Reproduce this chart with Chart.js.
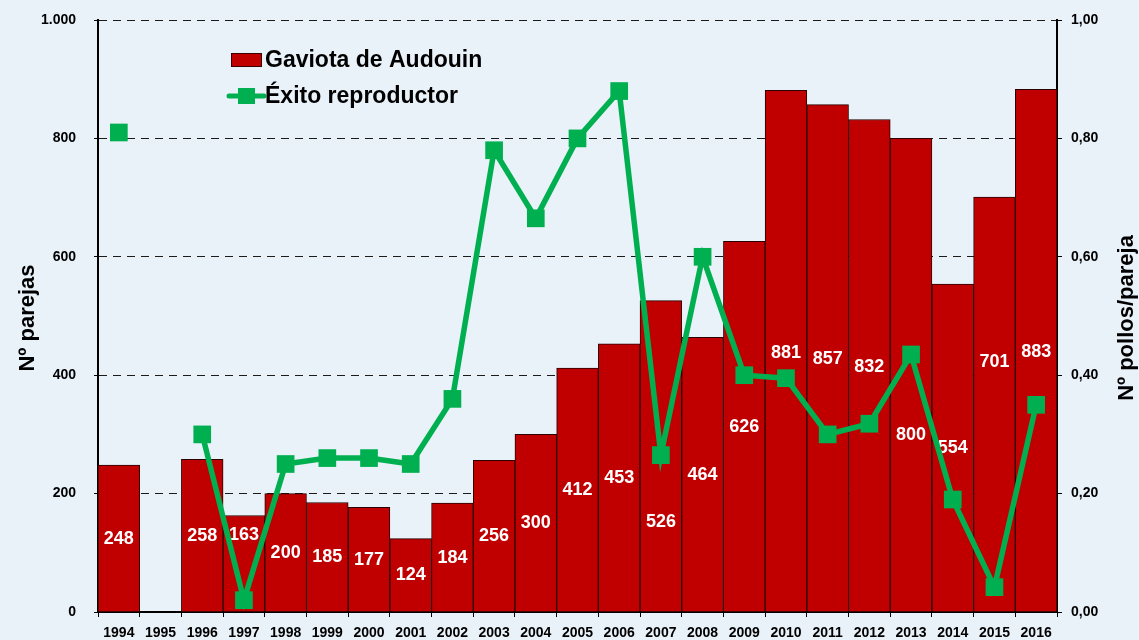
<!DOCTYPE html>
<html>
<head>
<meta charset="utf-8">
<script src="https://cdn.jsdelivr.net/npm/chart.js@4/dist/chart.umd.min.js"></script>
<style>
    html, body { margin: 0; padding: 0; background: #E9F1F9; }
    #chart { display: block; }
</style>
</head>
<body>
<canvas id="chart" width="1139" height="640"></canvas>
<script>
// Years on the x axis
const years = ['1994', '1995', '1996', '1997', '1998', '1999', '2000', '2001', '2002', '2003', '2004', '2005',
    '2006', '2007', '2008', '2009', '2010', '2011', '2012', '2013', '2014', '2015', '2016'];

// Nº parejas (bars, left axis)
const parejas = [248, null, 258, 163, 200, 185, 177, 124, 184, 256, 300, 412,
    453, 526, 464, 626, 881, 857, 832, 800, 554, 701, 883];

// Éxito reproductor, pollos/pareja (line, right axis)
const exito = [0.81, null, 0.30, 0.02, 0.25, 0.26, 0.26, 0.25, 0.36, 0.78, 0.665, 0.80,
    0.88, 0.265, 0.60, 0.40, 0.395, 0.30, 0.318, 0.435, 0.19, 0.042, 0.35];

// Where each bar's value label sits (left-axis units), null = middle of bar
const labelAt = [null, null, null, 130, null, null, null, null, null, null, null, null,
    null, 152, null, null, 437, 427, 414, 299, null, 422, 439];

const leftTicks = [0, 200, 400, 600, 800, 1000];
const rightTicks = [0, 0.2, 0.4, 0.6, 0.8, 1.0];

const FONT = "'Liberation Sans', Arial, sans-serif";
const RED = '#C00000';
const GREEN = '#00B050';

/**
 * Thousands with a dot, decimals with a comma
 */
function fmtLeft(v) {
    return String(v).replace(/\B(?=(\d{3})+(?!\d))/g, '.');
}

function fmtRight(v) {
    return v.toFixed(2).replace('.', ',');
}

/**
 * Fix a vertical axis width and drop its label overflow padding
 */
function fixWidth(w) {
    return scale => {
        scale.width = w;
        scale.paddingTop = 0;
        scale.paddingBottom = 0;
    };
}

// White labels inside the bars, drawn before the line
const barLabels = {
    id: 'barLabels',
    afterDatasetDraw(chart, args) {
        if (args.index !== 0) return;
        const ctx = chart.ctx;
        const yScale = chart.scales.y;
        const meta = chart.getDatasetMeta(0);
        ctx.save();
        ctx.fillStyle = '#ffffff';
        ctx.font = 'bold 18px ' + FONT;
        ctx.textAlign = 'center';
        ctx.textBaseline = 'middle';
        meta.data.forEach((bar, i) => {
            const v = parejas[i];
            if (v === null) return;
            const pos = labelAt[i] !== null ? labelAt[i] : v / 2;
            ctx.fillText(String(v), bar.x, yScale.getPixelForValue(pos));
        });
        ctx.restore();
    }
};

// Legend inside the plot and both axis titles
const extras = {
    id: 'extras',
    afterDraw(chart) {
        const ctx = chart.ctx;
        ctx.save();

        // Legend: bar entry
        ctx.fillStyle = RED;
        ctx.fillRect(231, 53, 31, 14);
        ctx.strokeStyle = '#3a0000';
        ctx.lineWidth = 1;
        ctx.strokeRect(231.5, 53.5, 30, 13);

        // Legend: line entry
        ctx.strokeStyle = GREEN;
        ctx.lineWidth = 5;
        ctx.lineCap = 'round';
        ctx.beginPath();
        ctx.moveTo(229, 96);
        ctx.lineTo(264, 96);
        ctx.stroke();
        ctx.fillStyle = GREEN;
        ctx.fillRect(238, 88, 17, 16);

        ctx.fillStyle = '#000000';
        ctx.font = 'bold 23px ' + FONT;
        ctx.textAlign = 'left';
        ctx.textBaseline = 'middle';
        ctx.fillText('Gaviota de Audouin', 265, 61);
        ctx.fillText('Éxito reproductor', 265, 97);

        // Axis titles, both reading bottom to top
        ctx.font = 'bold 22px ' + FONT;
        ctx.textAlign = 'center';
        ctx.translate(28, 318);
        ctx.rotate(-Math.PI / 2);
        ctx.fillText('Nº parejas', 0, 0);
        ctx.rotate(Math.PI / 2);
        ctx.translate(1127 - 28, 0);
        ctx.rotate(-Math.PI / 2);
        ctx.fillText('Nº pollos/pareja', 0, 0);

        ctx.restore();
    }
};

new Chart(document.getElementById('chart'), {
    data: {
        labels: years,
        datasets: [{
            type: 'bar',
            label: 'Gaviota de Audouin',
            data: parejas,
            yAxisID: 'y',
            backgroundColor: RED,
            borderColor: '#2a0000',
            borderWidth: 1,
            barPercentage: 1.0,
            categoryPercentage: 1.0,
            order: 2
        }, {
            type: 'line',
            label: 'Éxito reproductor',
            data: exito,
            yAxisID: 'y1',
            borderColor: GREEN,
            backgroundColor: GREEN,
            borderWidth: 5.5,
            pointStyle: 'rect',
            pointRadius: 12.5,
            pointBorderWidth: 0,
            pointBackgroundColor: GREEN,
            tension: 0,
            spanGaps: false,
            clip: false,
            order: 1
        }]
    },
    options: {
        responsive: false,
        animation: false,
        devicePixelRatio: 1,
        layout: { autoPadding: false, padding: { top: 20, left: 0, right: 0, bottom: 0 } },
        plugins: {
            legend: { display: false },
            tooltip: { enabled: false }
        },
        scales: {
            x: {
                type: 'category',
                offset: true,
                afterFit: scale => { scale.height = 28; },
                grid: {
                    offset: true,
                    drawOnChartArea: false,
                    tickLength: 5,
                    tickColor: '#000000',
                    tickWidth: 1
                },
                border: { color: '#000000', width: 2 },
                ticks: {
                    color: '#000000',
                    padding: 8,
                    maxRotation: 0,
                    autoSkip: false,
                    font: { family: FONT, size: 14, weight: 'bold' }
                }
            },
            y: {
                position: 'left',
                min: 0,
                max: 1000,
                afterFit: fixWidth(98),
                afterBuildTicks: scale => { scale.ticks = leftTicks.map(v => ({ value: v })); },
                grid: {
                    color: '#1a1a1a',
                    lineWidth: 1,
                    tickLength: 4,
                    tickColor: '#000000',
                    tickBorderDash: []
                },
                border: { color: '#000000', width: 2, dash: [8, 6] },
                ticks: {
                    color: '#000000',
                    padding: 18,
                    font: { family: FONT, size: 14, weight: 'bold' },
                    callback: v => fmtLeft(v)
                }
            },
            y1: {
                position: 'right',
                min: 0,
                max: 1,
                afterFit: fixWidth(82),
                afterBuildTicks: scale => { scale.ticks = rightTicks.map(v => ({ value: v })); },
                grid: {
                    drawOnChartArea: false,
                    tickLength: 5,
                    tickColor: '#000000'
                },
                border: { color: '#000000', width: 2 },
                ticks: {
                    color: '#000000',
                    padding: 9,
                    font: { family: FONT, size: 14, weight: 'bold' },
                    callback: v => fmtRight(v)
                }
            }
        }
    },
    plugins: [barLabels, extras]
});
</script>
</body>
</html>
